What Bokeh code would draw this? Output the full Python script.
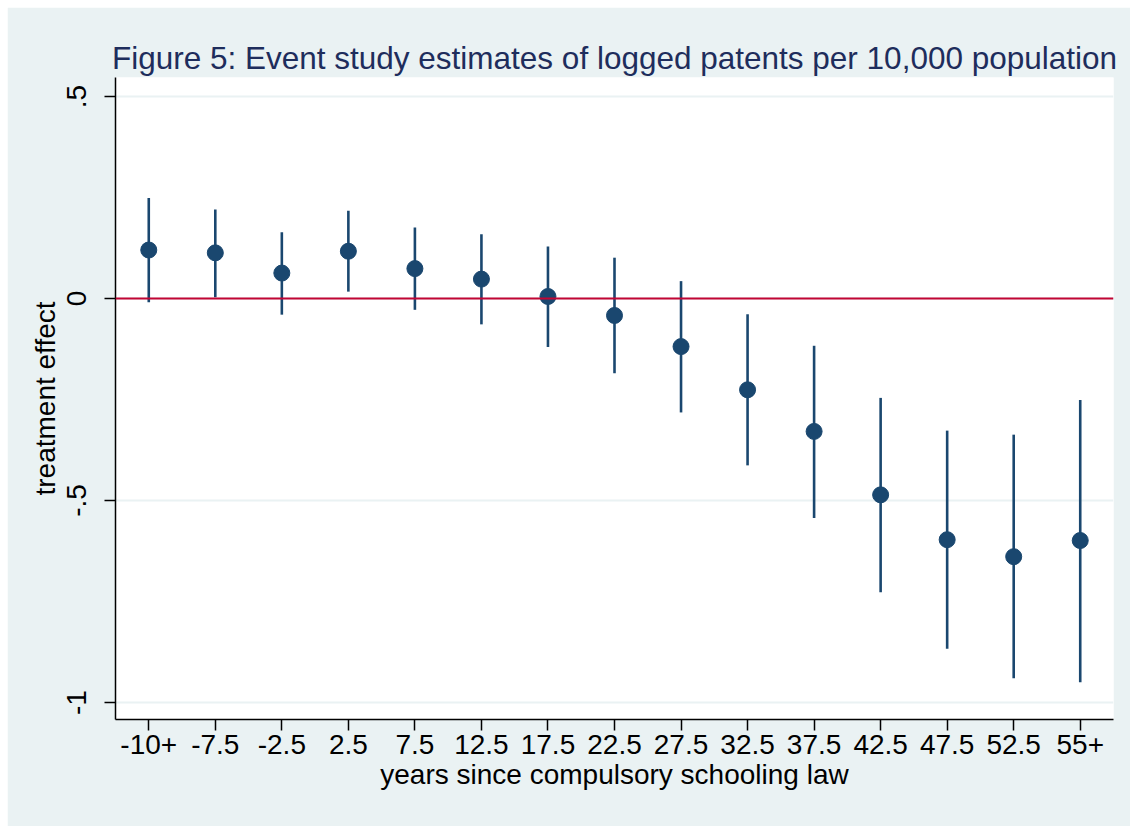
from bokeh.plotting import figure
from bokeh.models import FixedTicker, Span, Range1d
from bokeh.embed import file_html
from bokeh.resources import INLINE

# data
x_labels = ["-10+", "-7.5", "-2.5", "2.5", "7.5", "12.5", "17.5", "22.5",
            "27.5", "32.5", "37.5", "42.5", "47.5", "52.5", "55+"]
estimate = [0.120, 0.113, 0.063, 0.117, 0.074, 0.048, 0.005, -0.042,
            -0.119, -0.226, -0.329, -0.486, -0.597, -0.639, -0.599]
ci_upper = [0.249, 0.220, 0.164, 0.217, 0.176, 0.159, 0.129, 0.101,
            0.043, -0.039, -0.117, -0.246, -0.327, -0.337, -0.251]
ci_lower = [-0.009, 0.003, -0.040, 0.017, -0.028, -0.064, -0.120, -0.185,
            -0.282, -0.413, -0.543, -0.727, -0.867, -0.940, -0.950]
y_ticks = [-1.0, -0.5, 0.0, 0.5]
y_tick_labels = ["-1", "-.5", "0", ".5"]

xs = list(range(len(x_labels)))

FONT = "Liberation Sans"
BG = "#EAF2F3"
NAVY = "#1A476F"

p = figure(width=1123, height=819, output_backend="svg", toolbar_location=None,
           x_range=Range1d(-0.5, 14.5), y_range=Range1d(-1.042, 0.547),
           min_border_left=108, min_border_right=17, min_border_top=70,
           min_border_bottom=107)
p.margin = (7, 0, 0, 7)

p.background_fill_color = "white"
p.border_fill_color = BG
p.outline_line_color = None

p.title.text = "Figure 5: Event study estimates of logged patents per 10,000 population"
p.title.text_font = FONT
p.title.text_font_size = "31.5px"
p.title.text_font_style = "normal"
p.title.text_color = "#1E2D5C"
p.title.align = "center"
p.title.standoff = 4

# grid
p.xgrid.visible = False
p.ygrid.ticker = FixedTicker(ticks=y_ticks)
p.ygrid.grid_line_color = BG
p.ygrid.grid_line_width = 2

# zero line
p.add_layout(Span(location=0, dimension="width", line_color="#C10534", line_width=2.2))

# error bars and points
p.segment(x0=xs, y0=ci_lower, x1=xs, y1=ci_upper, line_color=NAVY, line_width=2.6)
p.scatter(xs, estimate, size=16, fill_color=NAVY, line_color=NAVY, marker="circle")

# x axis
xa = p.xaxis[0]
xa.ticker = FixedTicker(ticks=xs)
xa.major_label_overrides = {i: lab for i, lab in enumerate(x_labels)}
xa.axis_label = "years since compulsory schooling law"
xa.minor_tick_line_color = None
xa.major_tick_out = 11
xa.major_tick_in = 0
xa.axis_line_width = 1.5
xa.major_tick_line_width = 1.5
xa.major_label_text_font = FONT
xa.major_label_text_font_size = "28px"
xa.major_label_text_color = "black"
xa.major_label_standoff = 4
xa.axis_label_text_font = FONT
xa.axis_label_text_font_size = "28px"
xa.axis_label_text_font_style = "normal"
xa.axis_label_text_color = "black"
xa.axis_label_standoff = 2

# y axis
ya = p.yaxis[0]
ya.ticker = FixedTicker(ticks=y_ticks)
ya.major_label_overrides = {t: lab for t, lab in zip(y_ticks, y_tick_labels)}
ya.major_label_orientation = "vertical"
ya.axis_label = "treatment effect"
ya.minor_tick_line_color = None
ya.major_tick_out = 11
ya.major_tick_in = 0
ya.axis_line_width = 1.5
ya.major_tick_line_width = 1.5
ya.major_label_text_font = FONT
ya.major_label_text_font_size = "28px"
ya.major_label_text_color = "black"
ya.major_label_standoff = 18
ya.axis_label_text_font = FONT
ya.axis_label_text_font_size = "28px"
ya.axis_label_text_font_style = "normal"
ya.axis_label_text_color = "black"
ya.axis_label_standoff = 4

open("out.html", "w").write(file_html(p, INLINE))
